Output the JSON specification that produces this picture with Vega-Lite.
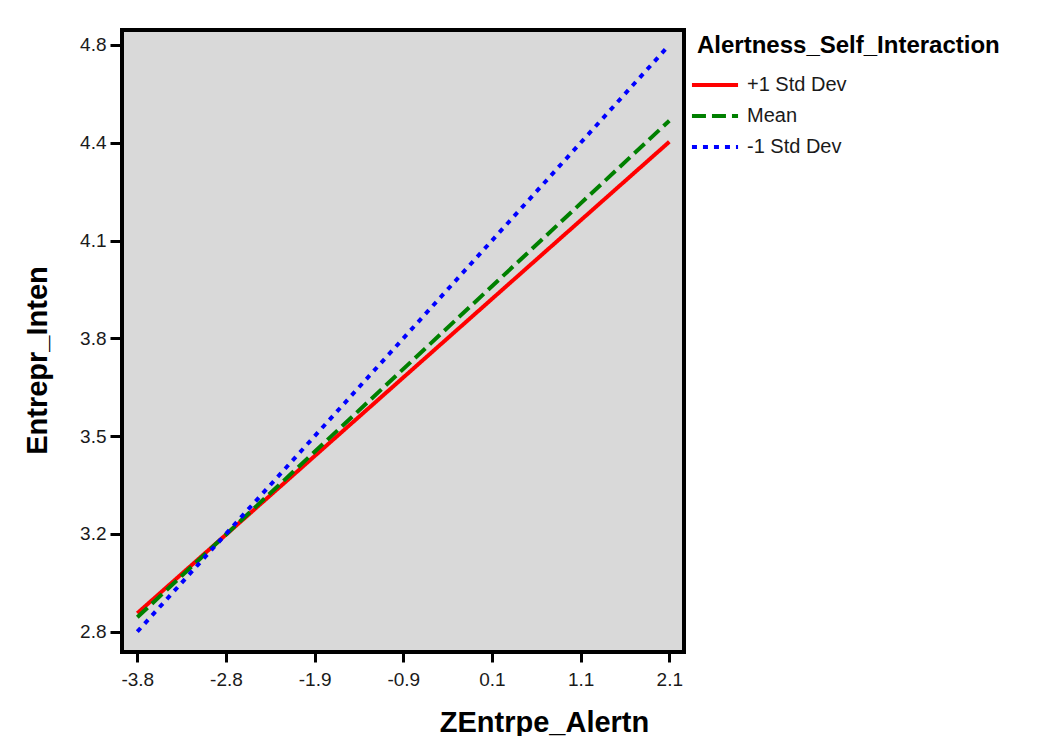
{
  "$schema": "https://vega.github.io/schema/vega-lite/v6.json",
  "width": 562,
  "height": 622,
  "autosize": {"type": "none"},
  "padding": {"left": 122, "top": 30, "right": 363, "bottom": 84},
  "background": "white",
  "config": {
    "font": "Liberation Sans",
    "view": {"fill": "#d9d9d9", "stroke": "black", "strokeWidth": 4}
  },
  "data": {
    "values": [
      {"series": "+1 Std Dev", "x": -3.8, "y": 2.863},
      {"series": "+1 Std Dev", "x": 2.1, "y": 4.47},
      {"series": "Mean", "x": -3.8, "y": 2.849},
      {"series": "Mean", "x": 2.1, "y": 4.542},
      {"series": "-1 Std Dev", "x": -3.8, "y": 2.8},
      {"series": "-1 Std Dev", "x": 2.1, "y": 4.8}
    ]
  },
  "mark": {"type": "line", "strokeWidth": 4},
  "encoding": {
    "x": {
      "field": "x",
      "type": "quantitative",
      "scale": {"domain": [-3.9697, 2.263], "nice": false, "zero": false},
      "axis": {
        "values": [-3.8, -2.8166667, -1.8333333, -0.85, 0.1333333, 1.1166667, 2.1],
        "labelExpr": "['-3.8','-2.8','-1.9','-0.9','0.1','1.1','2.1'][round((datum.value+3.8)/0.98333333)]",
        "domain": false,
        "grid": false,
        "tickColor": "black",
        "tickWidth": 3,
        "tickSize": 10,
        "labelFontSize": 19,
        "labelColor": "#1a1a1a",
        "labelPadding": 8,
        "labelFlush": false,
        "labelOverlap": false,
        "title": "ZEntrpe_Alertn",
        "titleFontSize": 29,
        "titleFontWeight": "bold",
        "titleColor": "black",
        "titleX": 422,
        "titleY": 79,
        "titleBaseline": "alphabetic",
        "titleAlign": "center"
      }
    },
    "y": {
      "field": "y",
      "type": "quantitative",
      "scale": {"domain": [2.7308, 4.8511], "nice": false, "zero": false},
      "axis": {
        "values": [2.8, 3.1333333, 3.4666667, 3.8, 4.1333333, 4.4666667, 4.8],
        "labelExpr": "['2.8','3.2','3.5','3.8','4.1','4.4','4.8'][round((datum.value-2.8)*3)]",
        "domain": false,
        "grid": false,
        "tickColor": "black",
        "tickWidth": 3,
        "tickSize": 12,
        "labelFontSize": 19,
        "labelColor": "#1a1a1a",
        "labelPadding": 4,
        "labelFlush": false,
        "labelOverlap": false,
        "title": "Entrepr_Inten",
        "titleFontSize": 29,
        "titleFontWeight": "bold",
        "titleColor": "black",
        "titleX": -76,
        "titleY": 330,
        "titleBaseline": "alphabetic",
        "titleAlign": "center"
      }
    },
    "color": {
      "field": "series",
      "type": "nominal",
      "scale": {"domain": ["+1 Std Dev", "Mean", "-1 Std Dev"], "range": ["#ff0000", "#008000", "#0000ff"]},
      "legend": {
        "title": "Alertness_Self_Interaction",
        "orient": "right",
        "titleFontSize": 24,
        "titleFontWeight": "bold",
        "titleColor": "black",
        "titleLimit": 400,
        "labelFontSize": 20,
        "labelColor": "#1a1a1a",
        "labelLimit": 300,
        "symbolType": "M-1.64,0H2.55",
        "symbolSize": 484,
        "symbolStrokeWidth": 4,
        "labelOffset": 24,
        "offset": 9,
        "padding": 4,
        "rowPadding": 8,
        "titlePadding": 14
      }
    },
    "strokeDash": {
      "field": "series",
      "type": "nominal",
      "scale": {"domain": ["+1 Std Dev", "Mean", "-1 Std Dev"], "range": [[1, 0], [14, 6], [5, 6]]},
      "legend": {
        "title": "Alertness_Self_Interaction",
        "orient": "right",
        "titleFontSize": 24,
        "titleFontWeight": "bold",
        "titleColor": "black",
        "titleLimit": 400,
        "labelFontSize": 20,
        "labelColor": "#1a1a1a",
        "labelLimit": 300,
        "symbolType": "M-1.64,0H2.55",
        "symbolSize": 484,
        "symbolStrokeWidth": 4,
        "labelOffset": 24,
        "offset": 9,
        "padding": 4,
        "rowPadding": 8,
        "titlePadding": 14
      }
    }
  }
}
